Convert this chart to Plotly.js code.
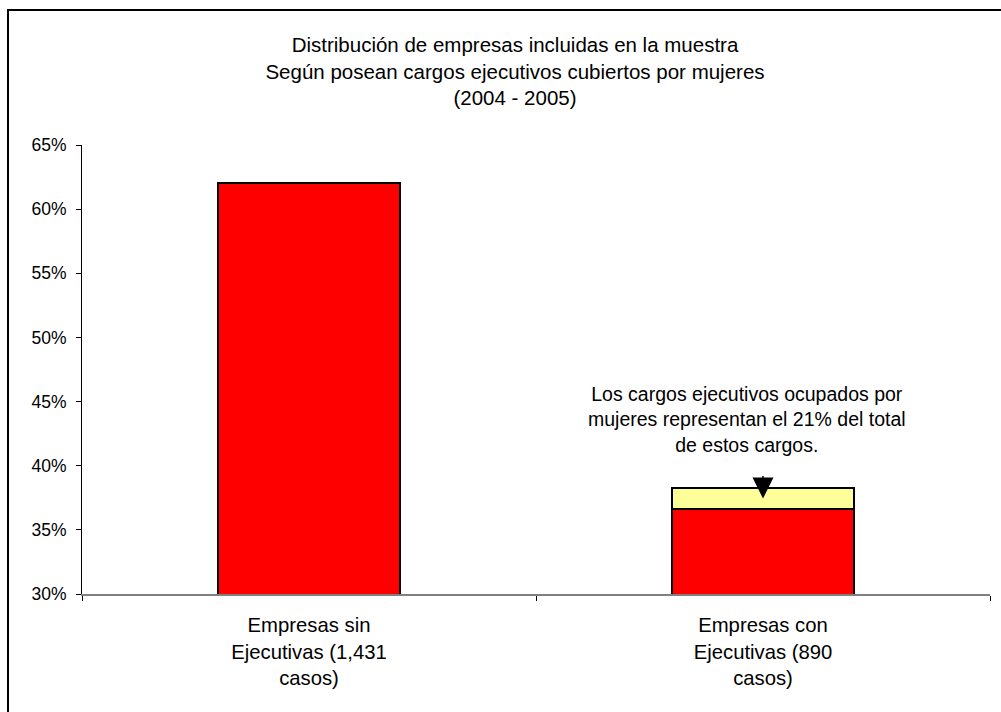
<!DOCTYPE html>
<html>
<head>
<meta charset="utf-8">
<script src="https://cdn.plot.ly/plotly-3.0.1.min.js"></script>
<style>html,body{margin:0;padding:0;background:#fff;}#chart{width:1001px;height:712px;}</style>
</head>
<body>
<div id="chart"></div>
<script>
var categories = ["Empresas sin<br>Ejecutivas (1,431<br>casos)", "Empresas con<br>Ejecutivas (890<br>casos)"];
var redValues = [62.0, 36.6];
var yellowValues = [null, 1.7];
var yTickVals = [30, 35, 40, 45, 50, 55, 60, 65];
var yTickText = ["30%", "35%", "40%", "45%", "50%", "55%", "60%", "65%"];
var titleText = "Distribución de empresas incluidas en la muestra<br>Según posean cargos ejecutivos cubiertos por mujeres<br>(2004 - 2005)";
var noteText = "Los cargos ejecutivos ocupados por<br>mujeres representan el 21% del total<br>de estos cargos.";
var arrowTip = 37.45;

var FONT = "Liberation Sans, Arial, sans-serif";

var traces = [
  {
    type: "bar",
    x: categories,
    y: redValues,
    width: 0.4,
    marker: {color: "#FF0000", line: {color: "#000000", width: 2}},
    hoverinfo: "y",
    showlegend: false
  },
  {
    type: "bar",
    x: categories,
    y: yellowValues,
    width: 0.4,
    marker: {color: "#FFFF99", line: {color: "#000000", width: 2}},
    hoverinfo: "y",
    showlegend: false
  }
];

var L = 82, R = 11, T = 145, B = 118;
var W = 1001, H = 712;
var pw = W - L - R, ph = H - T - B;
function px2x(p) { return (p - L) / pw; }
function px2y(p) { return (H - B - p) / ph; }

var layout = {
  width: W,
  height: H,
  margin: {l: L, r: R, t: T, b: B, pad: 0},
  paper_bgcolor: "#FFFFFF",
  plot_bgcolor: "#FFFFFF",
  barmode: "stack",
  font: {family: FONT, color: "#000000"},
  title: {
    text: titleText,
    font: {family: FONT, size: 20.5, color: "#000000"},
    xref: "paper",
    x: px2x(515),
    xanchor: "center",
    yref: "container",
    y: 1 - 52 / H,
    yanchor: "top"
  },
  xaxis: {
    type: "category",
    showline: true,
    linecolor: "#808080",
    linewidth: 2,
    ticks: "outside",
    tickson: "boundaries",
    ticklen: 5,
    tickcolor: "#000000",
    tickwidth: 1,
    showgrid: false,
    zeroline: false,
    tickfont: {family: FONT, size: 20.3, color: "#000000"},
    ticklabelstandoff: 12,
    fixedrange: true
  },
  yaxis: {
    range: [30, 65],
    tickvals: yTickVals,
    ticktext: yTickText,
    showline: true,
    linecolor: "#000000",
    linewidth: 1,
    ticks: "outside",
    ticklen: 5,
    tickcolor: "#000000",
    showgrid: false,
    zeroline: false,
    tickfont: {family: FONT, size: 17.5, color: "#000000"},
    ticklabelstandoff: 6,
    fixedrange: true
  },
  annotations: [
    {
      text: noteText,
      xref: "paper", yref: "paper",
      x: px2x(747), y: px2y(419),
      xanchor: "center", yanchor: "middle",
      showarrow: false,
      align: "center",
      font: {family: FONT, size: 19.5, color: "#000000"}
    },
    {
      text: "",
      x: categories[1],
      y: arrowTip,
      xref: "x", yref: "y",
      showarrow: true,
      arrowhead: 2,
      arrowsize: 2.8,
      arrowwidth: 1.5,
      arrowcolor: "#000000",
      ax: 0,
      ay: -24
    }
  ],
  shapes: [
    {
      type: "rect",
      xref: "paper", yref: "paper",
      x0: px2x(8), x1: px2x(1010),
      y0: px2y(720), y1: px2y(10),
      line: {color: "#000000", width: 2},
      fillcolor: "rgba(0,0,0,0)",
      layer: "above"
    }
  ]
};

Plotly.newPlot("chart", traces, layout, {displayModeBar: false, staticPlot: true});
</script>
</body>
</html>
